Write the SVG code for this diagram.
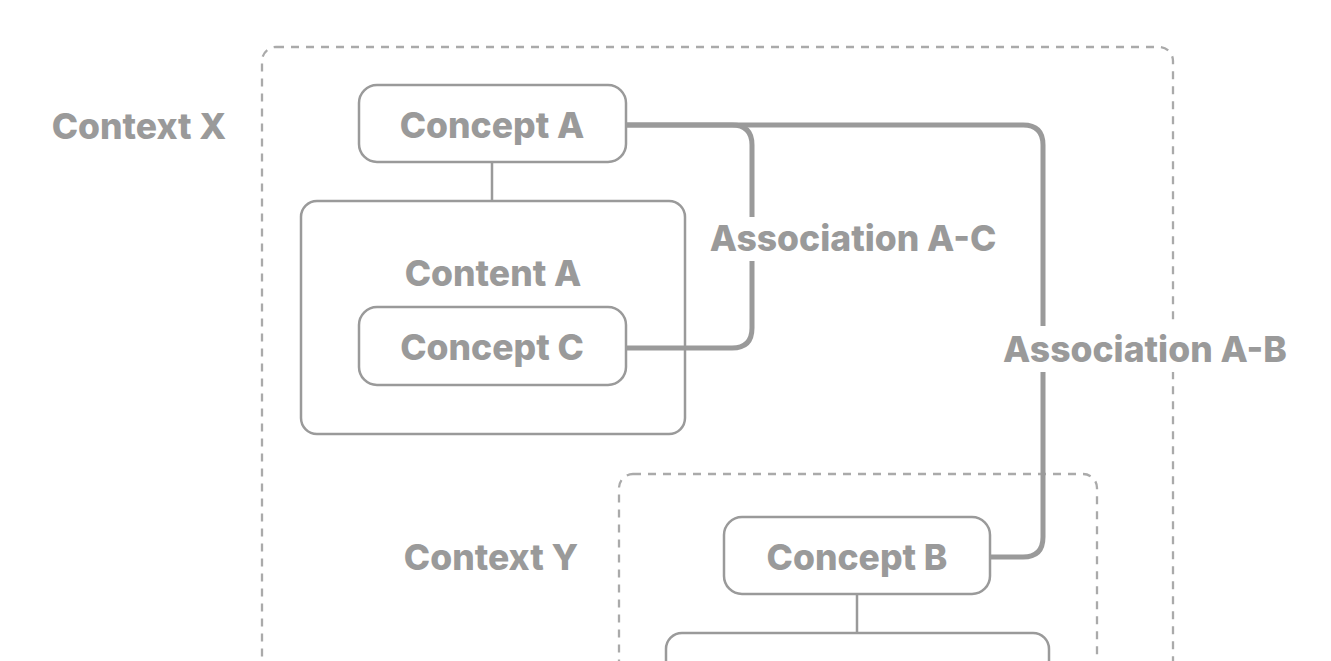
<svg xmlns="http://www.w3.org/2000/svg" width="1331" height="661" viewBox="0 0 1331 661">
<style>
.ctx{fill:none;stroke:#aaaaaa;stroke-width:2.3;stroke-dasharray:8 7}
.node{fill:#ffffff;stroke:#9a9a9a;stroke-width:2.5}
.box{fill:none;stroke:#9a9a9a;stroke-width:2.5}
.lbl{font-family:Inter,"Noto Sans","Liberation Sans",sans-serif;font-weight:800;font-size:35.5px;fill:#9a9a9a;text-anchor:middle;dominant-baseline:central}
.assoc{fill:none;stroke:#9a9a9a;stroke-width:5;stroke-linejoin:round}
.tree{fill:none;stroke:#9a9a9a;stroke-width:2.5}
.bg{fill:#ffffff}
</style>
<rect width="1331" height="661" fill="#ffffff"/>
<g id="context-x">
<rect class="ctx" x="262" y="47" width="911" height="700" rx="14"/>
<text class="lbl" x="139" y="126">Context X</text>
</g>
<g id="context-y">
<rect class="ctx" x="619" y="474" width="478" height="400" rx="14"/>
<text class="lbl" x="491" y="557">Context Y</text>
</g>
<g id="content-a">
<rect class="box" x="301" y="201" width="384" height="233" rx="16"/>
<text class="lbl" x="493" y="273">Content A</text>
</g>
<g id="content-b">
<rect class="box" x="666" y="633" width="383" height="120" rx="16"/>
</g>
<g id="connectors">
<line class="tree" x1="492" y1="162" x2="492" y2="201"/>
<line class="tree" x1="857" y1="594" x2="857" y2="633"/>
<path class="assoc" d="M626 125 H732 Q752 125 752 145 V328 Q752 348 732 348 H626"/>
<path class="assoc" d="M626 125 H1023 Q1043 125 1043 145 V537 Q1043 557 1023 557 H990"/>
</g>
<g id="concept-a">
<rect class="node" x="359" y="85" width="267" height="77" rx="18"/>
<text class="lbl" x="492" y="125">Concept A</text>
</g>
<g id="concept-c">
<rect class="node" x="359" y="307" width="267" height="78" rx="18"/>
<text class="lbl" x="492" y="347">Concept C</text>
</g>
<g id="concept-b">
<rect class="node" x="724" y="517" width="266" height="77" rx="18"/>
<text class="lbl" x="857" y="557">Concept B</text>
</g>
<g id="label-ac">
<rect class="bg" x="706" y="217" width="295" height="44"/>
<text class="lbl" x="853" y="238">Association A-C</text>
</g>
<g id="label-ab">
<rect class="bg" x="999" y="326" width="293" height="46"/>
<text class="lbl" x="1145" y="349">Association A-B</text>
</g>
</svg>
